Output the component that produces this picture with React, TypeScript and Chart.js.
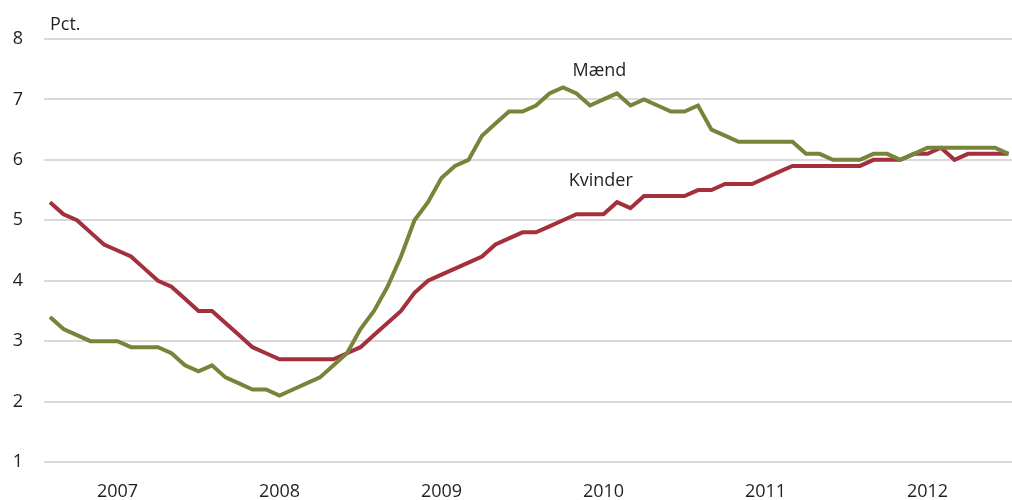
import React, { useEffect, useRef } from "react";
import { Chart, registerables } from "chart.js";

Chart.register(...registerables);

// Monthly observations, Jan 2007 – Dec 2012
const maend: number[] = [
  3.4, 3.2, 3.1, 3.0, 3.0, 3.0, 2.9, 2.9, 2.9, 2.8, 2.6, 2.5,
  2.6, 2.4, 2.3, 2.2, 2.2, 2.1, 2.2, 2.3, 2.4, 2.6, 2.8, 3.2,
  3.5, 3.9, 4.4, 5.0, 5.3, 5.7, 5.9, 6.0, 6.4, 6.6, 6.8, 6.8,
  6.9, 7.1, 7.2, 7.1, 6.9, 7.0, 7.1, 6.9, 7.0, 6.9, 6.8, 6.8,
  6.9, 6.5, 6.4, 6.3, 6.3, 6.3, 6.3, 6.3, 6.1, 6.1, 6.0, 6.0,
  6.0, 6.1, 6.1, 6.0, 6.1, 6.2, 6.2, 6.2, 6.2, 6.2, 6.2, 6.1,
];
const kvinder: number[] = [
  5.3, 5.1, 5.0, 4.8, 4.6, 4.5, 4.4, 4.2, 4.0, 3.9, 3.7, 3.5,
  3.5, 3.3, 3.1, 2.9, 2.8, 2.7, 2.7, 2.7, 2.7, 2.7, 2.8, 2.9,
  3.1, 3.3, 3.5, 3.8, 4.0, 4.1, 4.2, 4.3, 4.4, 4.6, 4.7, 4.8,
  4.8, 4.9, 5.0, 5.1, 5.1, 5.1, 5.3, 5.2, 5.4, 5.4, 5.4, 5.4,
  5.5, 5.5, 5.6, 5.6, 5.6, 5.7, 5.8, 5.9, 5.9, 5.9, 5.9, 5.9,
  5.9, 6.0, 6.0, 6.0, 6.1, 6.1, 6.2, 6.0, 6.1, 6.1, 6.1, 6.1,
];
const years: string[] = ["2007", "2008", "2009", "2010", "2011", "2012"];
const yearTickMonthIndex: number[] = [5, 17, 29, 41, 53, 65];
const seriesNames: string[] = ["Mænd", "Kvinder"];
// label anchors in data coordinates [monthIndex, value]
const labelAnchors: [number, number][] = [
  [40.7, 7.39],
  [40.8, 5.57],
];
const yTicks: number[] = [1, 2, 3, 4, 5, 6, 7, 8];
const unitLabel = "Pct.";

const GREEN = "#77843a";
const RED = "#a3303c";
const TEXT = "#231f20";
const FONT = "'Open Sans', 'Noto Sans', sans-serif";

export default function App() {
  const ref = useRef<HTMLCanvasElement | null>(null);

  useEffect(() => {
    if (!ref.current) return;
    const toXY = (arr: number[]) => arr.map((v, i) => ({ x: i, y: v }));

    const labelPlugin = {
      id: "labels",
      afterDatasetsDraw(chart: any) {
        const { ctx, scales, chartArea } = chart;
        ctx.save();
        ctx.fillStyle = TEXT;
        ctx.font = `18px ${FONT}`;
        ctx.textBaseline = "alphabetic";
        ctx.textAlign = "left";
        ctx.fillText(unitLabel, chartArea.left + 6, 30);
        ctx.textAlign = "center";
        labelAnchors.forEach(([xi, yv], i) => {
          ctx.fillText(
            seriesNames[i],
            scales.x.getPixelForValue(xi),
            scales.y.getPixelForValue(yv)
          );
        });
        ctx.restore();
      },
    };

    const chart = new Chart(ref.current, {
      type: "line",
      data: {
        datasets: [
          {
            label: seriesNames[0],
            data: toXY(maend),
            borderColor: GREEN,
            borderWidth: 4,
            pointRadius: 0,
            tension: 0,
            borderJoinStyle: "miter",
          },
          {
            label: seriesNames[1],
            data: toXY(kvinder),
            borderColor: RED,
            borderWidth: 4,
            pointRadius: 0,
            tension: 0,
            borderJoinStyle: "miter",
          },
        ],
      },
      options: {
        animation: false,
        responsive: true,
        maintainAspectRatio: false,
        layout: { padding: { left: 0, top: 39, right: 0, bottom: 0 } },
        plugins: {
          legend: { display: false },
          tooltip: { enabled: false },
        },
        scales: {
          x: {
            type: "linear",
            min: -0.444,
            max: 71.26,
            grid: { display: false },
            border: { display: false },
            afterBuildTicks: (axis: any) => {
              axis.ticks = yearTickMonthIndex.map((v) => ({ value: v }));
            },
            afterFit: (axis: any) => {
              axis.height = 38;
              axis.paddingLeft = 0;
              axis.paddingRight = 0;
            },
            ticks: {
              autoSkip: false,
              maxRotation: 0,
              padding: 11,
              color: TEXT,
              font: { family: FONT, size: 18 },
              callback: (value: any) => {
                const k = yearTickMonthIndex.indexOf(Number(value));
                return k >= 0 ? years[k] : "";
              },
            },
          },
          y: {
            type: "linear",
            min: yTicks[0],
            max: yTicks[yTicks.length - 1],
            grid: { color: "#d9d9d9", lineWidth: 2, drawTicks: false },
            border: { display: false },
            afterFit: (axis: any) => {
              axis.width = 44;
            },
            ticks: {
              stepSize: 1,
              padding: 21,
              color: TEXT,
              font: { family: FONT, size: 18 },
            },
          },
        },
      },
      plugins: [labelPlugin],
    });
    return () => chart.destroy();
  }, []);

  return (
    <div style={{ position: "fixed", left: 0, top: 0, width: 1012, height: 500, background: "#fff" }}>
      <canvas ref={ref} />
    </div>
  );
}
